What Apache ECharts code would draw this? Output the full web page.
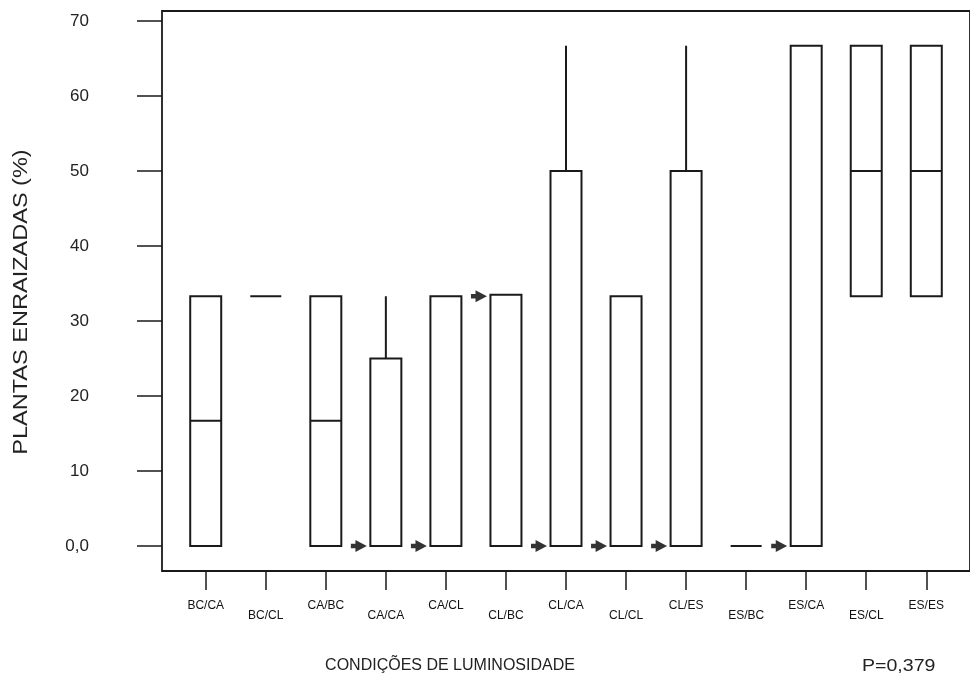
<!DOCTYPE html>
<html><head><meta charset="utf-8">
<script src="https://cdn.jsdelivr.net/npm/echarts@6/dist/echarts.min.js"></script>
<style>html,body{margin:0;padding:0;background:#fff}#c{width:970px;height:690px}</style>
</head><body><div id="c"></div>
<script>
const categories = ['BC/CA','BC/CL','CA/BC','CA/CA','CA/CL','CL/BC','CL/CA','CL/CL','CL/ES','ES/BC','ES/CA','ES/CL','ES/ES'];
const mins    = [0,    33.3, 0,    0,    0,    0,    0,    0,    0,    0, 0,    33.3, 33.3];
const q1s     = [0,    33.3, 0,    0,    0,    0,    0,    0,    0,    0, 0,    33.3, 33.3];
const medians = [16.7, 33.3, 16.7, 0,    0,    33.5, 0,    0,    0,    0, 0,    50,   50];
const q3s     = [33.3, 33.3, 33.3, 25,   33.3, 33.5, 50,   33.3, 50,   0, 66.7, 66.7, 66.7];
const maxs    = [33.3, 33.3, 33.3, 33.3, 33.3, 33.5, 66.7, 33.3, 66.7, 0, 66.7, 66.7, 66.7];
// median markers (arrowheads) drawn beside boxes whose median lies on a box edge
const markerCats = ['CA/CA','CA/CL','CL/BC','CL/CA','CL/CL','CL/ES','ES/CA'];
const markerVals = [0, 0, 33.3, 0, 0, 0, 0];
const yTicks = [0,10,20,30,40,50,60,70];

const boxData = categories.map((c,i)=>[i+1, mins[i], q1s[i], medians[i], q3s[i], maxs[i]]);
const markerData = markerCats.map((c,i)=>[categories.indexOf(c)+1, markerVals[i]]);

const LC = '#1a1a1a';
const chart = echarts.init(document.getElementById('c'), null, {renderer:'canvas'});
chart.setOption({
  animation:false,
  backgroundColor:'#fff',
  grid:{left:162, top:11, width:813, height:560, show:true, borderColor:LC, borderWidth:1.8, backgroundColor:'transparent'},
  xAxis:{
    type:'value', min:0.272, max:13.728,
    splitLine:{show:false},
    axisLine:{show:false, onZero:false},
    axisTick:{show:true, length:19, customValues:categories.map((c,i)=>i+1), lineStyle:{color:LC, width:1.5}},
    axisLabel:{
      customValues:categories.map((c,i)=>i+1), margin:29, color:'#111',
      fontFamily:'Liberation Sans', fontSize:12,
      formatter:(v)=>{const i=Math.round(v)-1; return i%2 ? '{lo|'+categories[i]+'}' : '{hi|'+categories[i]+'}';},
      rich:{hi:{fontFamily:'Liberation Sans', fontSize:12, color:'#111'}, lo:{fontFamily:'Liberation Sans', fontSize:12, color:'#111', padding:[10,0,0,0]}}
    }
  },
  yAxis:{
    type:'value', min:-3.333, max:71.333,
    splitLine:{show:false},
    axisLine:{show:false, onZero:false},
    axisTick:{show:true, length:25, customValues:yTicks, lineStyle:{color:LC, width:1.5}},
    axisLabel:{customValues:yTicks, margin:73, color:'#222', fontFamily:'Liberation Sans', fontSize:17,
      formatter:(v)=> v===0 ? '0,0' : String(v)}
  },
  graphic:[
    {type:'text', x:21, y:302, rotation:Math.PI/2, scaleX:1.12, style:{text:'PLANTAS ENRAIZADAS (%)', fill:'#222', font:'21px "Liberation Sans"', align:'center', verticalAlign:'middle'}},
    {type:'text', x:450, y:666, style:{text:'CONDIÇÕES DE LUMINOSIDADE', fill:'#222', font:'16px "Liberation Sans"', align:'center', verticalAlign:'middle'}},
    {type:'text', x:862, y:666, scaleX:1.15, style:{text:'P=0,379', fill:'#222', font:'17px "Liberation Sans"', align:'left', verticalAlign:'middle'}}
  ],
  series:[
    {
      type:'custom', data:boxData, clip:false,
      renderItem:(params, api)=>{
        const x = api.value(0);
        const mn=api.value(1), q1=api.value(2), md=api.value(3), q3=api.value(4), mx=api.value(5);
        const w = 31;
        const pQ1 = api.coord([x,q1]), pQ3 = api.coord([x,q3]), pMd = api.coord([x,md]);
        const pMn = api.coord([x,mn]), pMx = api.coord([x,mx]);
        const cx = pQ1[0];
        const st = {stroke:LC, lineWidth:2, fill:null};
        const ch = [];
        if (q3 > q1) {
          ch.push({type:'rect', shape:{x:cx-w/2, y:pQ3[1], width:w, height:pQ1[1]-pQ3[1]}, style:{stroke:LC, lineWidth:2, fill:'#fff'}});
        }
        if (md > q1 && md < q3 || q1 === q3) ch.push({type:'line', shape:{x1:cx-w/2, y1:pMd[1], x2:cx+w/2, y2:pMd[1]}, style:st});
        if (mx > q3) ch.push({type:'line', shape:{x1:cx, y1:pQ3[1], x2:cx, y2:pMx[1]}, style:st});
        if (mn < q1) ch.push({type:'line', shape:{x1:cx, y1:pQ1[1], x2:cx, y2:pMn[1]}, style:st});
        return {type:'group', children:ch};
      }
    },
    {
      type:'scatter', data:markerData,
      symbol:'path://M0,3.5 L4,3.5 L4,0 L14,5.5 L4,11 L4,7.5 L0,7.5 Z',
      symbolSize:[16,12], symbolOffset:[-27,0],
      itemStyle:{color:'#000'}
    }
  ]
});
</script></body></html>
